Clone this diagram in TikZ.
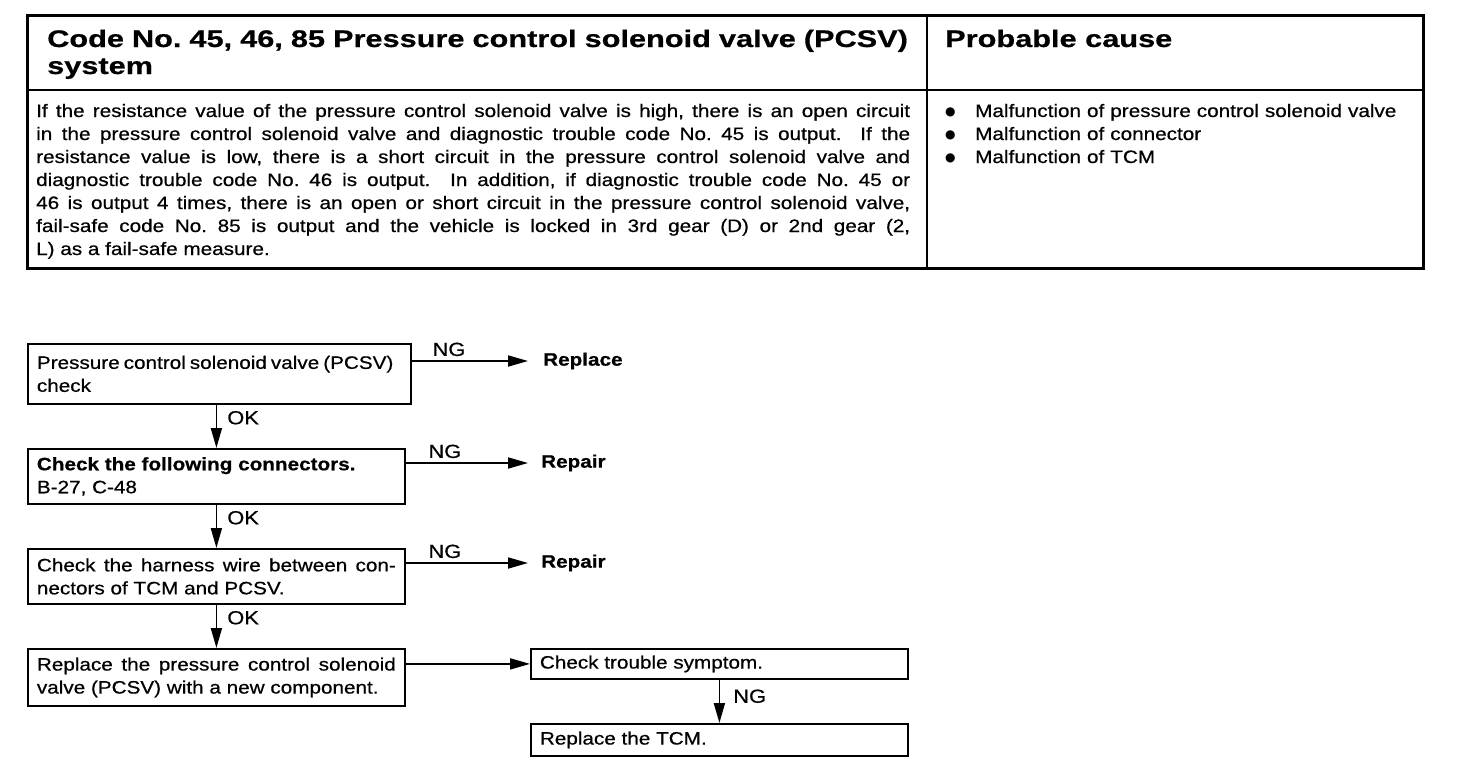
\documentclass[tikz,border=0pt]{standalone}
\usepackage{fontspec}
\setmainfont[FakeStretch=1.15, FakeBold=0.6]{Liberation Sans}
\newfontfamily\headfont[FakeStretch=1.28, FakeBold=0.6]{Liberation Sans Bold}
\newfontfamily\symfont{DejaVu Sans}
\usetikzlibrary{arrows.meta,positioning}
\frenchspacing
\newcommand{\blt}{\makebox[30pt][l]{\raisebox{1.5pt}{\symfont\fontsize{12}{23}\selectfont ●}}}

\begin{document}
\begin{tikzpicture}[x=1pt,y=-1pt,
  txt/.style={inner sep=0pt, font=\fontsize{18}{23}\selectfont},
  stepbox/.style={draw, line width=1.8pt, anchor=north west, inner xsep=9pt,
    inner ysep=0pt, text width=359pt, align=justify, font=\fontsize{18}{23}\selectfont},
  result/.style={anchor=west, inner sep=0pt, font=\fontsize{18}{23}\selectfont\bfseries},
  flow/.style={line width=1.8pt, -{Triangle[length=20pt,width=11pt]}},
  lbl/.style={inner sep=4pt, font=\fontsize{19}{19}\selectfont}
]
  \useasboundingbox (0,0) rectangle (1472,782);
  % Table frame
  \draw[line width=3pt] (27,15) rectangle (1423,268);
  \draw[line width=2pt] (927,15) -- (927,268);
  \draw[line width=2.5pt] (27,90) -- (1423,90);
  % Header row
  \node[anchor=base west, inner sep=0pt, text width=870pt, align=left,
    font={\headfont\fontsize{24}{27}\selectfont}] (head) at (47,47)
    {Code No. 45, 46, 85 Pressure control solenoid valve (PCSV)\\system};
  \node[anchor=base west, inner sep=0pt,
    font={\headfont\fontsize{24}{27}\selectfont}] (cause) at (945,47) {Probable cause};
  % Description
  \node[txt, anchor=base west, text width=874pt, align=justify] (desc) at (36,117)
    {If the resistance value of the pressure control solenoid valve is high, there is an open circuit\linebreak
     in the pressure control solenoid valve and diagnostic trouble code No. 45 is output.\ \ If the\linebreak
     resistance value is low, there is a short circuit in the pressure control solenoid valve and\linebreak
     diagnostic trouble code No. 46 is output.\ \ In addition, if diagnostic trouble code No. 45 or\linebreak
     46 is output 4 times, there is an open or short circuit in the pressure control solenoid valve,\linebreak
     fail-safe code No. 85 is output and the vehicle is locked in 3rd gear (D) or 2nd gear (2,\linebreak
     L) as a fail-safe measure.};
  % Probable causes
  \node[txt, anchor=base west, text width=460pt, align=left] (list) at (945,117)
    {\blt Malfunction of pressure control solenoid valve\\
     \blt Malfunction of connector\\
     \blt Malfunction of TCM};

  % Flow chart boxes
  \node[stepbox, text width=365pt, minimum height=60pt] (pcsv) at (27,343)
    {{\spaceskip=4pt Pressure control solenoid valve (PCSV)}\\check};
  \node[stepbox, minimum height=55pt] (conn) at (27,448)
    {\textbf{Check the following connectors.}\\B-27, C-48};
  \node[stepbox, minimum height=55pt] (harn) at (27,548)
    {Check the harness wire between con-\linebreak nectors of TCM and PCSV.};
  \node[stepbox, minimum height=57pt] (repl) at (27,648)
    {Replace the pressure control solenoid\linebreak valve (PCSV) with a new component.};
  \node[stepbox, minimum height=30pt] (symp) at (530,648) {Check trouble symptom.};
  \node[stepbox, minimum height=32pt] (tcm) at (530,723) {Replace the TCM.};
  % Results
  \node[result] (rplc) at (543,361) {Replace};
  \node[result] (rep1) at (541,463) {Repair};
  \node[result] (rep2) at (541,563) {Repair};

  % Connectors
  \draw[flow] (pcsv.east |- rplc) -- node[lbl, above, pos=0.32] {NG} ([xshift=-15pt]rplc.west);
  \draw[flow] (conn.east |- rep1) -- node[lbl, above, pos=0.32] {NG} ([xshift=-13pt]rep1.west);
  \draw[flow] (harn.east |- rep2) -- node[lbl, above, pos=0.32] {NG} ([xshift=-13pt]rep2.west);
  \draw[flow] (conn.north |- pcsv.south) -- node[lbl, right, pos=0.3, xshift=6pt] {OK} (conn.north);
  \draw[flow] (harn.north |- conn.south) -- node[lbl, right, pos=0.3, xshift=6pt] {OK} (harn.north);
  \draw[flow] (repl.north |- harn.south) -- node[lbl, right, pos=0.3, xshift=6pt] {OK} (repl.north);
  \draw[flow] (repl.east |- symp.west) -- (symp.west);
  \draw[flow] (symp.south) -- node[lbl, right, pos=0.38, xshift=9pt] {NG} (tcm.north);
\end{tikzpicture}
\end{document}
